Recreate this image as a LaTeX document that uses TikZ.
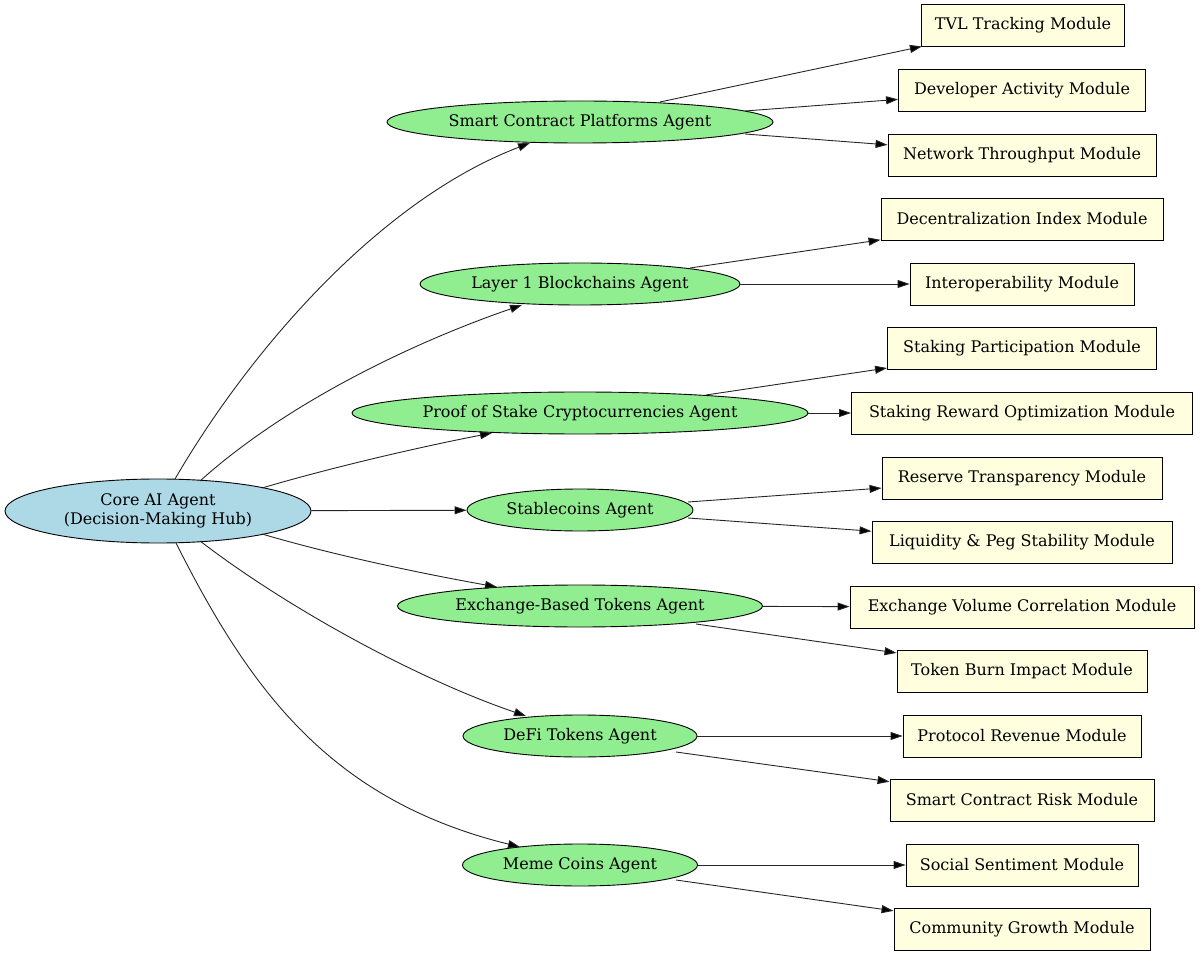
\documentclass[tikz,border=0pt]{standalone}
\usepackage{fontspec}
\setmainfont{DejaVu Serif}
\usetikzlibrary{shapes.geometric,arrows.meta}
\definecolor{lb}{RGB}{173,216,230}
\definecolor{lg}{RGB}{144,238,144}
\definecolor{ly}{RGB}{255,255,224}
\begin{document}
\begin{tikzpicture}[x=1pt,y=-1pt,
  every node/.style={font=\fontsize{16}{19}\selectfont,inner sep=0pt,draw,line width=0.9pt},
  ag/.style={ellipse,fill=lg,minimum height=42pt},
  md/.style={rectangle,fill=ly,minimum height=42pt},
  ar/.style={-{Triangle[length=12pt,width=8pt,fill=black]},line width=0.9pt,draw=black!85}]
\useasboundingbox (0,0) rectangle (1200,957);
\node[ellipse,fill=lb,minimum width=306pt,minimum height=64pt,align=center] (core) at (158,511) {Core AI Agent\\(Decision-Making Hub)};
\node[ag,minimum width=386pt] (scp) at (580,122) {Smart Contract Platforms Agent};
\node[ag,minimum width=320pt] (l1) at (580,284) {Layer 1 Blockchains Agent};
\node[ag,minimum width=456pt] (pos) at (580,413) {Proof of Stake Cryptocurrencies Agent};
\node[ag,minimum width=226pt] (st) at (580,510) {Stablecoins Agent};
\node[ag,minimum width=365pt] (ex) at (580,606) {Exchange-Based Tokens Agent};
\node[ag,minimum width=234pt] (df) at (580,736) {DeFi Tokens Agent};
\node[ag,minimum width=235pt] (mm) at (580,865) {Meme Coins Agent};
\node[md,minimum width=203pt] (tvl) at (1023,25) {TVL Tracking Module};
\node[md,minimum width=247pt] (dev) at (1022,90) {Developer Activity Module};
\node[md,minimum width=268pt] (net) at (1022,155) {Network Throughput Module};
\node[md,minimum width=282pt] (dec) at (1022,219) {Decentralization Index Module};
\node[md,minimum width=224pt] (int) at (1022,284) {Interoperability Module};
\node[md,minimum width=269pt] (sp) at (1022,348) {Staking Participation Module};
\node[md,minimum width=341pt] (sr) at (1022,413) {Staking Reward Optimization Module};
\node[md,minimum width=280pt] (rt) at (1022,478) {Reserve Transparency Module};
\node[md,minimum width=300pt] (lp) at (1022,542) {Liquidity \& Peg Stability Module};
\node[md,minimum width=344pt] (ev) at (1022,607) {Exchange Volume Correlation Module};
\node[md,minimum width=250pt] (tb) at (1022,671) {Token Burn Impact Module};
\node[md,minimum width=238pt] (pr) at (1022,736) {Protocol Revenue Module};
\node[md,minimum width=264pt] (scr) at (1022,800) {Smart Contract Risk Module};
\node[md,minimum width=232pt] (ss) at (1022,865) {Social Sentiment Module};
\node[md,minimum width=256pt] (cg) at (1022,929) {Community Growth Module};
\draw[ar] (175,479) .. controls (250,350) and (380,200) .. (530,143);
\draw[ar] (200,481) .. controls (290,400) and (420,340) .. (522,305);
\draw[ar] (262,488) .. controls (340,465) and (430,445) .. (492,433);
\draw[ar] (core) -- (st);
\draw[ar] (262,534) .. controls (340,557) and (430,575) .. (497,587);
\draw[ar] (200,541) .. controls (290,610) and (420,680) .. (526,716);
\draw[ar] (176,543) .. controls (250,690) and (330,800) .. (520,847);
\draw[ar] (660,102) -- (tvl);
\draw[ar] (745,111) -- (dev);
\draw[ar] (745,134) -- (net);
\draw[ar] (690,268) -- (dec);
\draw[ar] (l1) -- (int);
\draw[ar] (706,395) -- (sp);
\draw[ar] (pos) -- (sr);
\draw[ar] (688,502) -- (rt);
\draw[ar] (688,518) -- (lp);
\draw[ar] (ex) -- (ev);
\draw[ar] (696,624) -- (tb);
\draw[ar] (df) -- (pr);
\draw[ar] (676,752) -- (scr);
\draw[ar] (mm) -- (ss);
\draw[ar] (676,880) -- (cg);
\end{tikzpicture}
\end{document}
